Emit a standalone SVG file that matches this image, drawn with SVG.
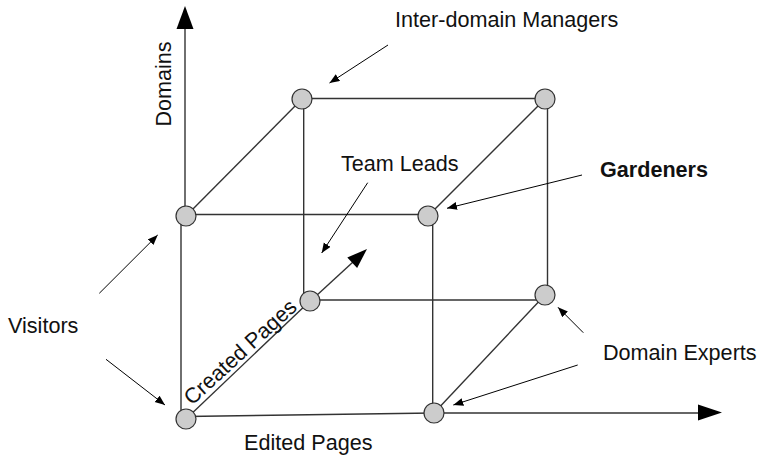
<svg xmlns="http://www.w3.org/2000/svg" width="761" height="459" viewBox="0 0 761 459">
  <style>
    .edge { stroke: #333; stroke-width: 1.4; fill: none; }
    .ann { stroke: #000; stroke-width: 1; fill: none; }
    .node { fill: #cccccc; stroke: #333; stroke-width: 1.2; }
    .lbl { font-family: "Liberation Sans", Arial, sans-serif; font-size: 21.6px; fill: #111; }
    .bold { font-weight: bold; }
    .head { fill: #000; stroke: none; }
  </style>
  <defs>
    <marker id="ah" markerUnits="userSpaceOnUse" markerWidth="11" markerHeight="9" refX="10" refY="4" orient="auto">
      <path d="M0,0 L10,4 L0,8 z" fill="#000"/>
    </marker>
  </defs>
  <rect width="761" height="459" fill="#fff"/>

  <g id="connectors">
    <!-- axes -->
    <line class="edge" x1="185" y1="26" x2="185" y2="207"/>
    <polygon class="head" points="185,6 176.5,29 193.5,29"/>
    <line class="edge" x1="443" y1="413" x2="700" y2="413"/>
    <polygon class="head" points="722,412.5 698,404.5 698,420.5"/>
    <!-- front face -->
    <line class="edge" x1="186" y1="214.5" x2="428" y2="214.5"/>
    <line class="edge" x1="181" y1="222" x2="181" y2="412"/>
    <line class="edge" x1="432.7" y1="216" x2="432.7" y2="413"/>
    <line class="edge" x1="186" y1="416.5" x2="434" y2="413"/>
    <!-- back face -->
    <line class="edge" x1="302" y1="98.5" x2="545" y2="98.5"/>
    <line class="edge" x1="303.7" y1="99" x2="303.7" y2="301"/>
    <line class="edge" x1="547.5" y1="99" x2="547.5" y2="295"/>
    <line class="edge" x1="310" y1="300" x2="545" y2="300"/>
    <!-- depth edges -->
    <line class="edge" x1="186" y1="216" x2="302" y2="99"/>
    <line class="edge" x1="428" y1="216" x2="545" y2="99"/>
    <line class="edge" x1="434" y1="413" x2="545" y2="295"/>
    <line class="edge" x1="186" y1="419" x2="310" y2="301"/>
    <!-- created pages arrow -->
    <line class="edge" x1="316" y1="296" x2="353" y2="262"/>
    <polygon class="head" points="367,249 347.3,257.5 357.1,268"/>
    <!-- annotation arrows -->
    <line class="ann" x1="388" y1="45" x2="329.5" y2="83" marker-end="url(#ah)"/>
    <line class="ann" x1="367.7" y1="182.7" x2="321.7" y2="253" marker-end="url(#ah)"/>
    <line class="ann" x1="582" y1="175" x2="447" y2="208.3" marker-end="url(#ah)"/>
    <line class="ann" x1="583.3" y1="332.7" x2="558" y2="307.3" marker-end="url(#ah)"/>
    <line class="ann" x1="577.7" y1="365" x2="453.3" y2="405" marker-end="url(#ah)"/>
    <line class="ann" x1="99.3" y1="293.3" x2="157.7" y2="235" marker-end="url(#ah)"/>
    <line class="ann" x1="106" y1="359.3" x2="165" y2="405" marker-end="url(#ah)"/>
  </g>

  <g id="node-front-bottom-left"><circle class="node" cx="186" cy="419" r="10"/></g>
  <g id="node-front-top-left"><circle class="node" cx="186" cy="216" r="10"/></g>
  <g id="node-front-top-right"><circle class="node" cx="428" cy="216" r="10"/></g>
  <g id="node-front-bottom-right"><circle class="node" cx="434" cy="413" r="10"/></g>
  <g id="node-back-top-left"><circle class="node" cx="302" cy="99" r="10"/></g>
  <g id="node-back-top-right"><circle class="node" cx="545" cy="99" r="10"/></g>
  <g id="node-back-bottom-left"><circle class="node" cx="310" cy="301" r="10"/></g>
  <g id="node-back-bottom-right"><circle class="node" cx="545" cy="295" r="10"/></g>

  <g id="label-domains"><text class="lbl" text-anchor="middle" transform="translate(170.5,84) rotate(-90)">Domains</text></g>
  <g id="label-edited-pages"><text class="lbl" x="244" y="450">Edited Pages</text></g>
  <g id="label-created-pages"><text class="lbl" transform="translate(192,406) rotate(-42.5)">Created Pages</text></g>
  <g id="label-inter-domain"><text class="lbl" x="395" y="27">Inter-domain Managers</text></g>
  <g id="label-team-leads"><text class="lbl" x="341" y="170.5">Team Leads</text></g>
  <g id="label-gardeners"><text class="lbl bold" x="600" y="177">Gardeners</text></g>
  <g id="label-domain-experts"><text class="lbl" x="603" y="360">Domain Experts</text></g>
  <g id="label-visitors"><text class="lbl" x="8" y="333">Visitors</text></g>
</svg>
